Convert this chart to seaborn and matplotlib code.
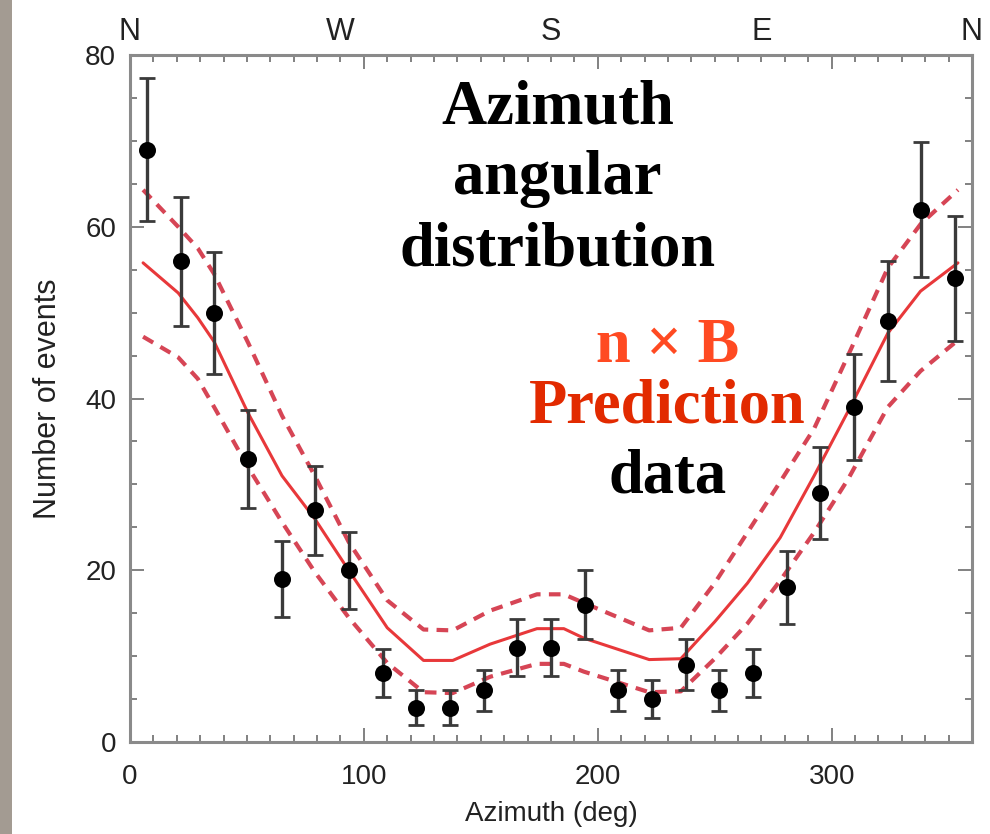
import matplotlib
matplotlib.use("Agg")
import matplotlib.pyplot as plt
import seaborn as sns
import numpy as np
import pandas as pd
from matplotlib.ticker import MultipleLocator, FixedLocator
from matplotlib.patches import Rectangle

# Observed event counts per azimuth bin
azimuth = [7.2, 21.6, 36.0, 50.4, 64.8, 79.2, 93.6, 108.0, 122.4, 136.8, 151.2, 165.6,
           180.0, 194.4, 208.8, 223.2, 237.6, 252.0, 266.4, 280.8, 295.2, 309.6, 324.0,
           338.4, 352.8]
counts = [69, 56, 50, 33, 19, 27, 20, 8, 4, 4, 6, 11, 11, 16, 6, 5, 9, 6, 8, 18, 29, 39,
          49, 62, 54]
count_err = [8.3, 7.5, 7.1, 5.7, 4.4, 5.2, 4.5, 2.8, 2.0, 2.0, 2.4, 3.3, 3.3, 4.0, 2.4,
             2.2, 3.0, 2.4, 2.8, 4.2, 5.4, 6.2, 7.0, 7.9, 7.3]

# n x B prediction with its band
pred_az = [5.6, 20.6, 29, 36, 50.5, 65, 79, 93.5, 110, 125.5, 138, 154, 174, 185.5, 194,
           222, 235.5, 250, 264, 278, 292.5, 307, 324, 338, 354]
pred = [55.8, 52.3, 49.4, 46.6, 38.3, 31.0, 26.0, 20.0, 13.3, 9.5, 9.5, 11.4, 13.2, 13.2,
        12.1, 9.6, 9.7, 14.0, 18.5, 23.8, 31.0, 38.5, 47.6, 52.5, 55.8]
pred_hi = [64.3, 60.0, 57.5, 54.5, 46.5, 38.0, 31.0, 23.3, 16.5, 13.1, 13.0, 15.3, 17.2,
           17.2, 16.2, 13.0, 13.3, 18.5, 24.4, 30.3, 36.5, 45.0, 55.2, 60.3, 64.3]
pred_lo = [47.2, 44.8, 42.3, 39.0, 32.0, 25.6, 19.8, 14.5, 9.2, 5.8, 5.7, 7.6, 9.1, 9.1,
           8.2, 5.8, 5.9, 9.7, 13.8, 18.8, 24.4, 30.6, 39.0, 43.2, 46.8]

compass_pos = [0, 90, 180, 270, 360]
compass_lbl = ["N", "W", "S", "E", "N"]

sns.set_theme(style="ticks")
plt.rcParams["font.family"] = ["Liberation Sans", "DejaVu Sans"]

fig = plt.figure(figsize=(9.9, 8.34), dpi=100)
fig.patch.set_facecolor("white")
ax = fig.add_axes([0.1313, 0.1103, 0.9818 - 0.1313, 0.934 - 0.1103])

# textured backdrop strip at the left edge
fig.patches.append(Rectangle((0, 0), 12 / 990, 1, transform=fig.transFigure,
                             facecolor="#a39b92", edgecolor="none", zorder=0))

df_pred = pd.DataFrame({"az": pred_az, "pred": pred, "hi": pred_hi, "lo": pred_lo})
sns.lineplot(data=df_pred, x="az", y="pred", ax=ax, color="#e8383a", lw=2.2,
             sort=False, zorder=3)
for col in ["hi", "lo"]:
    sns.lineplot(data=df_pred, x="az", y=col, ax=ax, color="#d64555", lw=3.0,
                 sort=False, zorder=3, dashes=False, linestyle=(0, (2.8, 2.0)))

ax.errorbar(azimuth, counts, yerr=count_err, fmt="none", ecolor="#3a3a3a",
            elinewidth=2.4, capsize=6, capthick=2.0, zorder=4)
df_obs = pd.DataFrame({"az": azimuth, "n": counts})
sns.scatterplot(data=df_obs, x="az", y="n", ax=ax, color="black", s=150,
                edgecolor="black", linewidth=0, zorder=5)

ax.set_xlim(0, 360)
ax.set_ylim(0, 80)
ax.xaxis.set_major_locator(FixedLocator([0, 100, 200, 300]))
ax.xaxis.set_minor_locator(MultipleLocator(10))
ax.yaxis.set_major_locator(MultipleLocator(20))
ax.yaxis.set_minor_locator(MultipleLocator(5))
ax.tick_params(which="both", direction="in", top=True, right=True, color="#777777",
               width=1.3, labelsize=20, labelcolor="#222222")
ax.tick_params(axis="x", which="both", pad=16)
ax.tick_params(axis="y", which="both", pad=10)
ax.tick_params(which="major", length=10)
ax.tick_params(which="minor", length=5)
for sp in ax.spines.values():
    sp.set_color("#8a8a8a")
    sp.set_linewidth(2.2)

ax.set_xlabel("Azimuth (deg)", fontsize=20, color="#222222", labelpad=8)
ax.set_ylabel("Number of events", fontsize=22, color="#222222", labelpad=16)

top = ax.secondary_xaxis("top")
top.xaxis.set_major_locator(FixedLocator(compass_pos))
top.set_xticklabels(compass_lbl)
top.tick_params(length=0, labelsize=22, labelcolor="#222222", pad=6)
top.spines["top"].set_visible(False)

serif = ["Liberation Serif", "DejaVu Serif"]
ax.text(0.508, 0.965, "Azimuth\nangular\ndistribution", transform=ax.transAxes,
        ha="center", va="top", fontsize=45, fontweight="bold", family=serif,
        color="black", linespacing=1.3)
ax.text(0.638, 0.575, "n \u00d7 B", transform=ax.transAxes, ha="center",
        va="center", fontsize=45, fontweight="bold", family=serif, color="#ff4a22")
ax.text(0.638, 0.487, "Prediction", transform=ax.transAxes, ha="center",
        va="center", fontsize=45, fontweight="bold", family=serif, color="#e22a00")
ax.text(0.638, 0.385, "data", transform=ax.transAxes, ha="center",
        va="center", fontsize=45, fontweight="bold", family=serif, color="black")

fig.savefig("out.png", dpi=100, facecolor="white")
